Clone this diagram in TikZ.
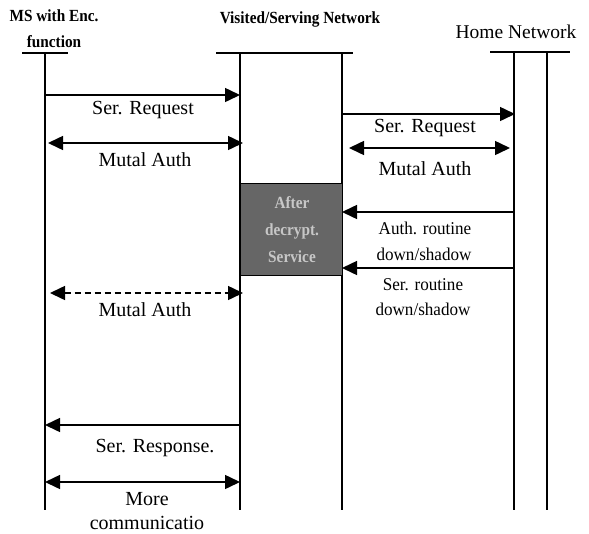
\documentclass[tikz,border=0pt]{standalone}
\usepackage{fontspec}
\setmainfont{Liberation Serif}
\newfontfamily\hdrfont[FakeStretch=0.9]{Liberation Serif}
\newfontfamily\cfont[FakeStretch=0.95]{Liberation Serif}
\usetikzlibrary{arrows.meta}
\tikzset{
  life/.style={line width=1.3pt},
  bar/.style={line width=1.3pt},
  msg/.style={line width=1.5pt,-{Triangle[length=15pt,width=14pt]}},
  dmsg/.style={line width=1.5pt,{Triangle[length=15pt,width=14pt]}-{Triangle[length=15pt,width=14pt]}},
  lbl/.style={font=\fontsize{20}{22}\selectfont,inner sep=0pt},
  clbl/.style={font=\cfont\fontsize{18}{20}\selectfont,inner sep=0pt},
  hdr/.style={font=\hdrfont\bfseries\fontsize{17}{19}\selectfont,inner sep=0pt},
  boxtxt/.style={font=\hdrfont\bfseries\fontsize{17}{19}\selectfont,text=black!22,inner sep=0pt},
}
\begin{document}
\begin{tikzpicture}[x=1pt,y=-1pt]
\useasboundingbox (0,0) rectangle (589,533);
% headers
\node[hdr] (hms1) at (54,16) {MS with Enc.};
\node[hdr] (hms2) at (54,42) {function};
\node[hdr] (hvis) at (300,19) {Visited/Serving Network};
\node[font=\fontsize{19.5}{21}\selectfont,inner sep=0pt] (hhome) at (516,32) {Home Network};
% top bars
\coordinate (msbarL) at (22,53); \coordinate (msbarR) at (68,53);
\coordinate (visbarL) at (216,53); \coordinate (visbarR) at (353,53);
\coordinate (homebarL) at (490,52); \coordinate (homebarR) at (570,52);
\draw[bar] (msbarL) -- (msbarR);
\draw[bar] (visbarL) -- (visbarR);
\draw[bar] (homebarL) -- (homebarR);
% lifelines
\coordinate (msT) at (45,53); \coordinate (msB) at (45,510);
\coordinate (v1T) at (240,53); \coordinate (v1B) at (240,510);
\coordinate (v2T) at (342,53); \coordinate (v2B) at (342,510);
\coordinate (h1T) at (514,52); \coordinate (h1B) at (514,510);
\coordinate (h2T) at (547,52); \coordinate (h2B) at (547,510);
\draw[life] (msT) -- (msB);
\draw[life] (v1T) -- (v1B);
\draw[life] (v2T) -- (v2B);
\draw[life] (h1T) -- (h1B);
\draw[life] (h2T) -- (h2B);
% shaded box
\node[draw=black,line width=1pt,fill=black!60,minimum width=102pt,minimum height=92pt,inner sep=0pt,anchor=north west] (box) at (240,183) {};
\node[boxtxt] (bt1) at (292,203) {After};
\node[boxtxt] (bt2) at (292,231) {decrypt.};
\node[boxtxt] (bt3) at (292,257) {Service};
% MS <-> Visited
\coordinate (a1s) at (45,95); \coordinate (a1e) at (240,95);
\draw[msg] (a1s) -- (a1e);
\node[lbl] (l1) at (143,110) {Ser. Request};
\coordinate (a2s) at (48,143); \coordinate (a2e) at (243,143);
\draw[dmsg] (a2s) -- (a2e);
\node[lbl] (l2) at (145,160) {Mutal Auth};
% Visited <-> Home
\coordinate (b1s) at (342,114); \coordinate (b1e) at (515,114);
\draw[msg] (b1s) -- (b1e);
\node[lbl] (l3) at (425,128) {Ser. Request};
\coordinate (b2s) at (349,148); \coordinate (b2e) at (510,148);
\draw[dmsg] (b2s) -- (b2e);
\node[lbl] (l4) at (425,169) {Mutal Auth};
% Home -> box
\coordinate (c1s) at (514,212); \coordinate (c1e) at (342,212);
\draw[msg] (c1s) -- (c1e);
\node[clbl] (l5) at (425,228) {Auth. routine};
\node[clbl] (l6) at (424,254) {down/shadow};
\coordinate (c2s) at (514,268); \coordinate (c2e) at (342,268);
\draw[msg] (c2s) -- (c2e);
\node[clbl] (l7) at (423,285) {Ser. routine};
\node[clbl] (l8) at (423,309) {down/shadow};
% dashed mutual auth
\coordinate (d1s) at (50,293); \coordinate (d1e) at (243,293);
\draw[dmsg,dashed,dash pattern=on 6pt off 4pt] (d1s) -- (d1e);
\node[lbl] (l9) at (145,310) {Mutal Auth};
% response
\coordinate (e1s) at (240,425); \coordinate (e1e) at (45,425);
\draw[msg] (e1s) -- (e1e);
\node[lbl] (l10) at (155,448) {Ser. Response.};
\coordinate (e2s) at (45,482); \coordinate (e2e) at (240,482);
\draw[dmsg] (e2s) -- (e2e);
\node[lbl] (l11) at (147,499) {More};
\node[lbl] (l12) at (147,523) {communicatio};
\end{tikzpicture}
\end{document}
